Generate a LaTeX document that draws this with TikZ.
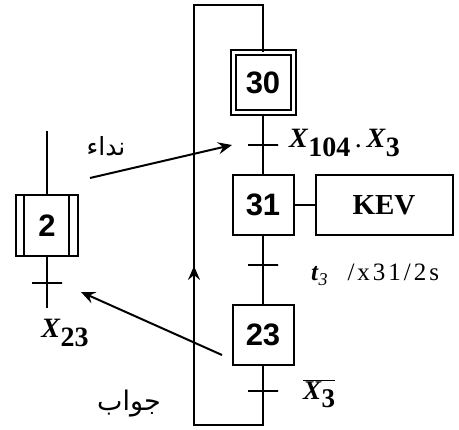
\documentclass[tikz,border=0pt]{standalone}
\usepackage{fontspec}
\setmainfont{Liberation Serif}
\newfontfamily\stepfont{Liberation Sans}
\newfontfamily\wideserif[LetterSpace=12]{Liberation Serif}
\newfontfamily\arabicfont[Script=Arabic]{DejaVu Sans}
\TeXXeTstate=1
\usetikzlibrary{arrows.meta, positioning}

\newcommand{\varX}[1]{\textbf{\textit{X}}\raisebox{-0.3em}{\textbf{#1}}}

\begin{document}
\begin{tikzpicture}[
        x=1pt, y=-1pt, line width=2pt,
        etape/.style={draw, minimum width=61pt, minimum height=60pt, inner sep=0pt,
            font=\stepfont\bfseries\fontsize{31}{31}\selectfont},
        init/.style={etape, double, double distance=3pt, minimum width=60pt, minimum height=60pt},
        trans/.style={draw, minimum width=30pt, minimum height=0pt, inner sep=0pt},
        lbl/.style={inner sep=0pt, font=\fontsize{28}{28}\selectfont},
        ar/.style={inner sep=0pt, font=\arabicfont\fontsize{25}{25}\selectfont},
        arr/.style={-{Stealth[length=14pt, width=12pt, inset=5pt]}}
    ]
        \useasboundingbox (0,0) rectangle (459,430);

        % sequence principale
        \node[init] (s30) at (263,83) {30};
        \node[trans, below=30pt of s30] (t30) {};
        \node[etape, below=28pt of t30] (s31) {31};
        \node[draw, minimum width=137pt, minimum height=60pt, right=20pt of s31,
            font=\bfseries\fontsize{29}{29}\selectfont] (kev) {KEV\hspace{28pt}};
        \node[trans, below=28pt of s31] (t31) {};
        \node[etape, below=38pt of t31] (s23) {23};
        \node[trans, below=24pt of s23] (t23) {};

        \node[lbl, right=9pt of t30, yshift=2pt] (c30) {\varX{104}\,.\,\varX{3}};
        \node[lbl, right=31pt of t31, yshift=-10pt, font=\fontsize{25}{25}\selectfont] (c31)
            {\textbf{\textit{t}}\raisebox{-0.2em}{\textit{\fontsize{18}{18}\selectfont 3}}\hspace{20pt}{\wideserif /x31/2s}};
        \node[lbl, right=23pt of t23, yshift=-3pt, font=\fontsize{27}{27}\selectfont] (c23)
            {$\overline{\hbox{\varX{3}}}$};

        \draw (s30) -- (t30) -- (s31);
        \draw (s31) -- (kev);
        \draw (s31) -- (t31) -- (s23);
        \draw (s23) -- (t23) -- ++(0,34) -| (194,5) -| (s30.north);
        \coordinate (up1) at (194,292);
        \coordinate (up2) at (194,266);
        \draw[arr] (up1) -- (up2);

        % etape 2
        \node[etape, minimum width=62pt, minimum height=61pt] (s2) at (47,225.5) {2};
        \draw ([xshift=9pt]s2.north west) -- ([xshift=9pt]s2.south west);
        \draw ([xshift=-10pt]s2.north east) -- ([xshift=-10pt]s2.south east);
        \coordinate[above=63pt of s2] (s2in);
        \node[trans, below=25pt of s2] (t2) {};
        \coordinate[below=24pt of t2] (s2out);
        \draw (s2in) -- (s2) -- (t2) -- (s2out);
        \node[lbl] (c2) at (65,333) {\varX{23}};

        % liaisons
        \node[ar] (appel) at (106,146) {\beginR نداء\endR};
        \node[ar, font=\arabicfont\fontsize{27}{27}\selectfont] (reponse) at (129,404) {\beginR جواب\endR};
        \coordinate (a1) at (90,178);
        \coordinate (a2) at (222,355);
        \draw[arr] (a1) -- ([xshift=-15pt]t30.west);
        \draw[arr] (a2) -- ([xshift=18pt, yshift=-9pt]t2.east);
    \end{tikzpicture}
\end{document}
